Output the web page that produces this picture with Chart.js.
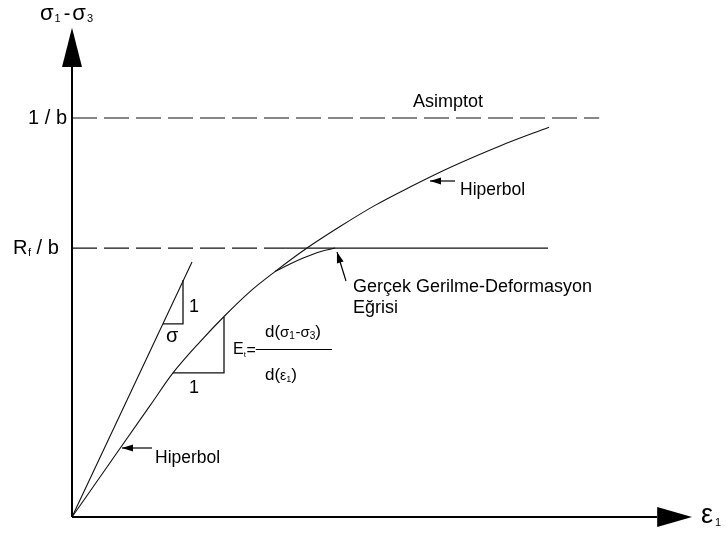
<!DOCTYPE html>
<html>
<head>
<meta charset="utf-8">
<script src="https://cdn.jsdelivr.net/npm/chart.js@4"></script>
<style>
  html, body { margin: 0; padding: 0; background: #fff; }
  canvas { display: block; }
</style>
</head>
<body>
<canvas id="chartCanvas" width="726" height="533"></canvas>
<script>
// strain (e1) and deviator stress (s1 - s3, in units of 1/b)
const hypStrain  = [0, 0.95, 1.95, 2.525, 3.2, 3.825, 4.45, 5.075, 5.875, 6.7, 7.575, 8.45, 9.45, 10.7, 11.925];
const hypStress  = [0, 0.136, 0.279, 0.361, 0.439, 0.505, 0.565, 0.615, 0.674, 0.728, 0.781, 0.827, 0.876, 0.93, 0.977];

const realStrain = [5.075, 5.45, 5.78, 6.2, 6.58];
const realStress = [0.615, 0.634, 0.649, 0.665, 0.674];

const asymptote = 1.0;          // 1 / b
const failure   = 0.674;        // Rf / b
const asymEnd   = 13.18;
const failDashEnd = 5.33;
const failEnd   = 11.9;

const tangentStrain = [0, 3.0];
const tangentStress = [0, 0.639];

const slopeTriStrain = [2.275, 2.775, 2.775];
const slopeTriStress = [0.484, 0.484, 0.594];
const tanTriStrain   = [2.525, 3.8, 3.8];
const tanTriStress   = [0.361, 0.361, 0.501];

const xAxisEnd = 14.63, xArrowTip = 15.5;
const yAxisEnd = 1.128, yArrowTip = 1.226;

const pts = (xs, ys) => xs.map((v, i) => ({ x: v, y: Array.isArray(ys) ? ys[i] : ys }));

function line(data, opts) {
  return Object.assign({
    data: data,
    showLine: true,
    pointRadius: 0,
    borderColor: '#111',
    borderWidth: 1.1,
    fill: false,
    clip: false
  }, opts || {});
}

const FONT = '"Liberation Sans", Arial, sans-serif';

const sketchMarks = {
  id: 'sketchMarks',
  afterDatasetsDraw(chart) {
    const { ctx, scales: { x, y } } = chart;
    const px = v => x.getPixelForValue(v);
    const py = v => y.getPixelForValue(v);
    ctx.save();
    ctx.fillStyle = '#000';
    ctx.strokeStyle = '#000';

    // axis arrow heads
    ctx.beginPath();
    ctx.moveTo(px(0), py(yArrowTip));
    ctx.lineTo(px(0) - 10, py(yAxisEnd));
    ctx.lineTo(px(0) + 10, py(yAxisEnd));
    ctx.closePath();
    ctx.fill();
    ctx.beginPath();
    ctx.moveTo(px(xArrowTip), py(0));
    ctx.lineTo(px(xAxisEnd), py(0) - 10);
    ctx.lineTo(px(xAxisEnd), py(0) + 10);
    ctx.closePath();
    ctx.fill();

    // pointer arrows
    function pointer(x1, y1, x2, y2) {
      const a = Math.atan2(y2 - y1, x2 - x1);
      ctx.lineWidth = 1.2;
      ctx.beginPath();
      ctx.moveTo(x1, y1);
      ctx.lineTo(x2, y2);
      ctx.stroke();
      ctx.beginPath();
      ctx.moveTo(x2, y2);
      ctx.lineTo(x2 - 11 * Math.cos(a) + 3.5 * Math.sin(a), y2 - 11 * Math.sin(a) - 3.5 * Math.cos(a));
      ctx.lineTo(x2 - 11 * Math.cos(a) - 3.5 * Math.sin(a), y2 - 11 * Math.sin(a) + 3.5 * Math.cos(a));
      ctx.closePath();
      ctx.fill();
    }
    pointer(455, 181, 430, 181);
    pointer(152, 448, 122, 448);
    pointer(346, 281, 337, 252);

    function text(str, tx, ty, size, align) {
      ctx.font = size + 'px ' + FONT;
      ctx.textAlign = align || 'left';
      ctx.textBaseline = 'alphabetic';
      ctx.fillText(str, tx, ty);
      return tx + ctx.measureText(str).width;
    }

    // axis titles
    let cx = text('σ', 40, 20, 22);
    cx = text('1', cx + 1, 22, 11);
    cx = text('-', cx + 3, 20, 20);
    cx = text('σ', cx + 2, 20, 22);
    text('3', cx + 1, 22, 11);

    cx = text('ε', 701, 523, 27);
    text('1', cx + 2, 526, 11);

    // stress levels
    text('1 / b', 67, py(asymptote) + 6, 20, 'right');
    cx = text('R', 13, py(failure) + 6, 20);
    cx = text('f', cx + 0.5, py(failure) + 8, 11);
    text(' / b', cx, py(failure) + 6, 20);

    text('Asimptot', 413, 107, 18);
    text('Hiperbol', 460, 195, 17.5);
    text('Hiperbol', 155, 463, 17.5);
    text('Gerçek Gerilme-Deformasyon', 353, 292, 18);
    text('Eğrisi', 353, 313, 18);

    // slope triangle labels
    text('1', 189, 312, 18);
    text('σ', 166, 342, 20);
    text('1', 189, 393, 18);

    // tangent modulus
    cx = text('E', 233, 354, 16);
    cx = text('t', cx, 357, 8);
    cx = text('=', cx + 0.5, 355, 16);
    ctx.lineWidth = 1;
    ctx.beginPath();
    ctx.moveTo(cx, 349.5);
    ctx.lineTo(332, 349.5);
    ctx.stroke();
    cx = text('d(', 265, 337, 17);
    cx = text('σ', cx, 337, 15);
    cx = text('1', cx, 339, 10);
    cx = text('-', cx + 0.5, 337, 15);
    cx = text('σ', cx, 337, 15);
    cx = text('3', cx, 339, 10);
    text(')', cx, 337, 17);
    cx = text('d(', 265, 380, 17);
    cx = text('ε', cx, 380, 14);
    cx = text('1', cx, 382, 9);
    text(')', cx, 380, 17);

    ctx.restore();
  }
};

const ctx = document.getElementById('chartCanvas').getContext('2d');

new Chart(ctx, {
  type: 'scatter',
  data: {
    datasets: [
      // axes
      line(pts([0, 0], [0, yAxisEnd]), { borderWidth: 2, borderColor: '#000' }),
      line(pts([0, xAxisEnd], [0, 0]), { borderWidth: 2, borderColor: '#000' }),
      // asymptote and failure level
      line(pts([0, asymEnd], asymptote), { borderDash: [25, 7], borderWidth: 1.2 }),
      line(pts([0, failDashEnd], failure), { borderDash: [25, 7], borderWidth: 1.2 }),
      line(pts([failDashEnd, failEnd], failure), { borderWidth: 1.2 }),
      // hyperbola and measured curve
      line(pts(hypStrain, hypStress), { cubicInterpolationMode: 'monotone' }),
      line(pts(realStrain, realStress), { cubicInterpolationMode: 'monotone' }),
      // initial tangent and slope triangles
      line(pts(tangentStrain, tangentStress)),
      line(pts(slopeTriStrain, slopeTriStress), { borderWidth: 1.3 }),
      line(pts(tanTriStrain, tanTriStress), { borderWidth: 1.3 })
    ]
  },
  options: {
    responsive: false,
    animation: false,
    layout: { padding: { left: 72, right: 0, top: 0, bottom: 16 } },
    scales: {
      x: { type: 'linear', display: false, min: 0, max: 16.35 },
      y: { type: 'linear', display: false, min: 0, max: 517 / 399 }
    },
    plugins: {
      legend: { display: false },
      tooltip: { enabled: false }
    }
  },
  plugins: [sketchMarks]
});
</script>
</body>
</html>
